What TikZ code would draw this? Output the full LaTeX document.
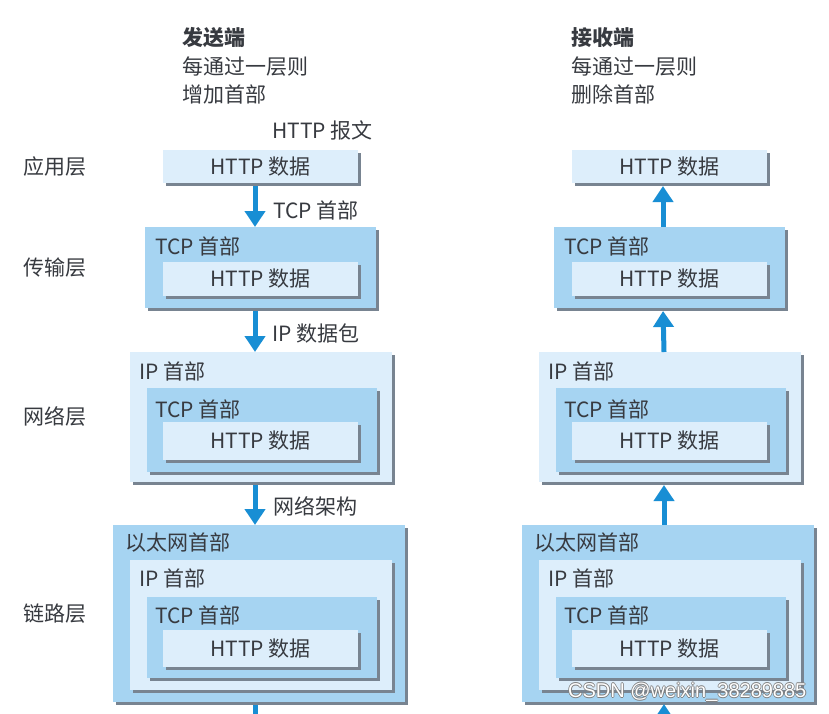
\documentclass[tikz,border=0pt]{standalone}
\usepackage{fontspec}
\setmainfont{Noto Sans CJK SC}
\newfontfamily\wmfont{Liberation Sans}
\usetikzlibrary{arrows.meta,shadows}
\definecolor{lightbox}{RGB}{221,238,251}
\definecolor{midbox}{RGB}{166,212,242}
\definecolor{shadowc}{RGB}{120,132,145}
\definecolor{arrowc}{RGB}{24,142,212}
\definecolor{txt}{RGB}{55,58,64}
\newcommand\myfs{\fontsize{21pt}{22pt}\selectfont}
\tikzset{
  box/.style={anchor=north west, inner sep=0pt, outer sep=0pt, text=txt, font=\myfs,
    drop shadow={shadow xshift=3pt, shadow yshift=-3pt, fill=shadowc, opacity=1}},
  lbox/.style={box, fill=lightbox},
  mbox/.style={box, fill=midbox},
  hdr/.style={anchor=west, inner sep=0pt, text=txt, font=\myfs},
  arr/.style={draw=arrowc, line width=5pt, -{Triangle[width=20pt,length=16pt]}},
  shaft/.style={draw=arrowc, line width=5pt},
}
\newcommand\stackcol[2]{%
\begin{scope}[xshift=#2]
  % application layer
  \node[lbox, minimum width=195pt, minimum height=33pt] (#1a1) at (163,150) {HTTP 数据};
  % transport layer
  \node[mbox, minimum width=231pt, minimum height=81pt] (#1t) at (145,227) {};
  \node[hdr] (#1th) at (155,246) {TCP 首部};
  \node[lbox, minimum width=195pt, minimum height=34pt] (#1t1) at (163,262) {HTTP 数据};
  % network layer
  \node[lbox, minimum width=262pt, minimum height=130pt] (#1n) at (130,352) {};
  \node[hdr] (#1nh) at (139,371) {IP 首部};
  \node[mbox, minimum width=230pt, minimum height=84pt] (#1n2) at (147,388) {};
  \node[hdr] (#1n2h) at (155,409) {TCP 首部};
  \node[lbox, minimum width=195pt, minimum height=38pt] (#1n1) at (163,422) {HTTP 数据};
  % link layer
  \node[mbox, minimum width=292pt, minimum height=177pt] (#1l) at (113,525) {};
  \node[hdr] (#1lh) at (125,543) {以太网首部};
  \node[lbox, minimum width=262pt, minimum height=130pt] (#1l3) at (130,560) {};
  \node[hdr] (#1l3h) at (139,578) {IP 首部};
  \node[mbox, minimum width=230pt, minimum height=81pt] (#1l2) at (147,597) {};
  \node[hdr] (#1l2h) at (155,615) {TCP 首部};
  \node[lbox, minimum width=195pt, minimum height=37pt] (#1l1) at (163,630) {HTTP 数据};
\end{scope}}
\begin{document}
\begin{tikzpicture}[x=1pt,y=-1pt]
  \clip (0,0) rectangle (829,713);
  \fill[white] (0,0) rectangle (829,713);

  % headings
  \node[hdr, font=\myfs\bfseries] (sendT) at (182,38) {发送端};
  \node[hdr] (send1) at (182,67) {每通过一层则};
  \node[hdr] (send2) at (182,94) {增加首部};
  \node[hdr, font=\myfs\bfseries] (recvT) at (571,38) {接收端};
  \node[hdr] (recv1) at (571,67) {每通过一层则};
  \node[hdr] (recv2) at (571,94) {删除首部};

  % layer names
  \node[hdr] (lyA) at (23,167) {应用层};
  \node[hdr] (lyT) at (23,268) {传输层};
  \node[hdr] (lyN) at (23,416) {网络层};
  \node[hdr] (lyL) at (23,614) {链路层};

  \node[hdr] (msg) at (272,130) {HTTP 报文};

  \stackcol{L}{0pt}
  \stackcol{R}{409pt}

  % sender arrows (down)
  \draw[arr, shorten <=3pt] ([xshift=-5.5pt]La1.south) -- ([xshift=-5.5pt]Lt.north);
  \draw[arr, shorten <=3pt] ([xshift=-5.5pt]Lt.south) -- ([xshift=-6pt]Ln.north);
  \draw[arr, shorten <=3pt] ([xshift=-6pt]Ln.south) -- ([xshift=-4pt]Ll.north);
  \coordinate (Lend) at (255,725);
  \draw[shaft, shorten <=3pt] ([xshift=-4pt]Ll.south) -- (Lend);

  \node[hdr] (lab1) at (273,210) {TCP 首部};
  \node[hdr] (lab2) at (272,333) {IP 数据包};
  \node[hdr] (lab3) at (273,506) {网络架构};

  % receiver arrows (up)
  \draw[arr, shorten >=3pt] ([xshift=-6.5pt]Rt.north) -- ([xshift=-6.5pt]Ra1.south);
  \draw[arr, shorten >=3pt] ([xshift=-6pt]Rn.north) -- ([xshift=-6.5pt]Rt.south);
  \draw[arr, shorten >=3pt] ([xshift=-4pt]Rl.north) -- ([xshift=-6pt]Rn.south);
  \coordinate (Rstart) at (664,745);
  \draw[arr, shorten >=2pt] (Rstart) -- ([xshift=-4pt]Rl.south);

  % watermark
  \foreach \dx/\dy in {-0.8/0,0.8/0,0/-0.8,0/0.8}
    \node[anchor=west, inner sep=0pt, font=\wmfont\fontsize{20pt}{20pt}\selectfont, text=gray] at (568+\dx,692+\dy) {CSDN @weixin\_38289885};
  \node[anchor=west, inner sep=0pt, font=\wmfont\fontsize{20pt}{20pt}\selectfont, text=white] (wm) at (568,692) {CSDN @weixin\_38289885};
\end{tikzpicture}
\end{document}
